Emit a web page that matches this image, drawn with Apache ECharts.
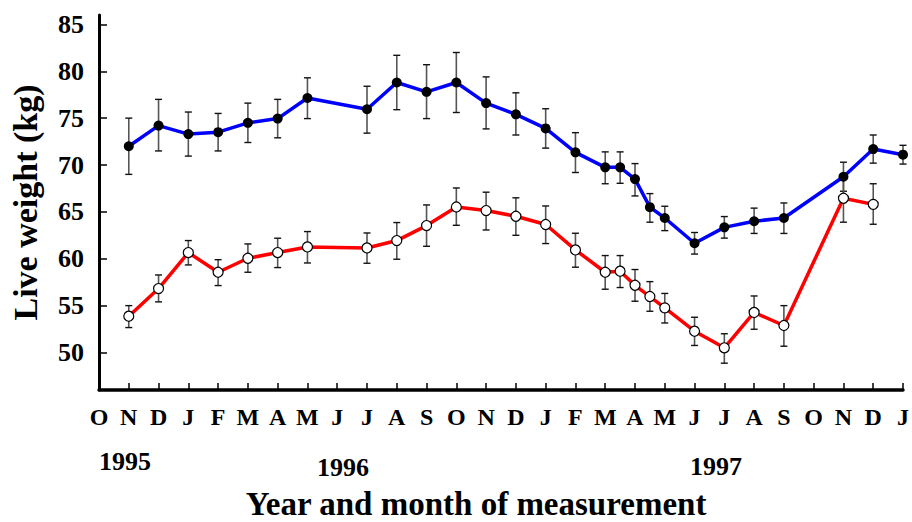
<!DOCTYPE html>
<html>
<head>
<meta charset="utf-8">
<script src="https://cdn.jsdelivr.net/npm/echarts@6/dist/echarts.min.js"></script>
<style>html,body{margin:0;padding:0;background:#fff}#c{width:912px;height:522px}</style>
</head>
<body>
<div id="c"></div>
<script>
// Month tick labels (Oct 1995 .. Jan 1998), x = months since Oct 1995
const monthLabels = ['O','N','D','J','F','M','A','M','J','J','A','S','O','N','D','J','F','M','A','M','J','J','A','S','O','N','D','J'];
const yTicks = [50, 55, 60, 65, 70, 75, 80, 85];
const yearLabels = ['1995', '1996', '1997'];

// Blue series (filled black markers)
const blueX = [1,2,3,4,5,6,7,9,10,11,12,13,14,15,16,17,17.5,18,18.5,19,20,21,22,23,25,26,27];
const blueMean = [72.0,74.2,73.3,73.5,74.5,74.95,77.15,75.95,78.8,77.8,78.8,76.6,75.4,73.9,71.35,69.75,69.75,68.5,65.5,64.35,61.65,63.35,64.0,64.35,68.75,71.7,71.1];
const blueLow  = [69.0,71.5,70.95,71.5,72.4,72.9,74.95,73.4,75.9,74.95,75.6,73.85,73.2,71.8,69.2,68.0,68.05,66.7,63.9,63.0,60.5,62.2,62.7,62.7,67.2,70.2,70.1];
const blueHigh = [75.0,77.0,75.65,75.5,76.6,77.0,79.3,78.4,81.7,80.7,82.0,79.4,77.7,76.0,73.45,71.4,71.4,70.15,66.95,65.6,62.8,64.5,65.4,65.95,70.3,73.2,72.1];

// Red series (open white markers)
const redX = [1,2,3,4,5,6,7,9,10,11,12,13,14,15,16,17,17.5,18,18.5,19,20,21,22,23,25,26];
const redMean = [53.87,56.82,60.66,58.56,60.05,60.66,61.26,61.15,61.94,63.54,65.52,65.14,64.53,63.65,60.94,58.56,58.67,57.17,55.97,54.76,52.27,50.5,54.27,52.88,66.45,65.8];
const redLow  = [52.66,55.4,59.34,57.14,58.56,59.06,59.55,59.52,59.95,61.33,63.57,63.07,62.5,61.62,59.1,56.75,56.93,55.47,54.4,53.15,50.75,48.86,52.48,50.67,63.9,63.68];
const redHigh = [55.0,58.27,61.94,59.9,61.58,62.19,62.9,62.75,63.86,65.74,67.55,67.1,66.5,65.63,62.72,60.34,60.34,58.85,57.56,56.3,53.76,52.0,56.03,55.0,69.0,68.0];

const FONT = '"Liberation Serif", "Times New Roman", serif';

function pairs(xs, ys) { return xs.map((x, i) => [x, ys[i]]); }
function errData(xs, lo, hi) { return xs.map((x, i) => [x, lo[i], hi[i]]); }

function renderErr(params, api) {
  const x = api.value(0);
  const lo = api.coord([x, api.value(1)]);
  const hi = api.coord([x, api.value(2)]);
  const hw = 3.5;
  return {
    type: 'group',
    children: [
      { type: 'line', shape: { x1: lo[0], y1: lo[1], x2: hi[0], y2: hi[1] }, style: { stroke: '#555', lineWidth: 1.6 } },
      { type: 'line', shape: { x1: hi[0] - hw, y1: hi[1], x2: hi[0] + hw, y2: hi[1] }, style: { stroke: '#111', lineWidth: 1.4 } },
      { type: 'line', shape: { x1: lo[0] - hw, y1: lo[1], x2: lo[0] + hw, y2: lo[1] }, style: { stroke: '#111', lineWidth: 1.4 } }
    ]
  };
}

const chart = echarts.init(document.getElementById('c'), null, { renderer: 'svg' });
chart.setOption({
  animation: false,
  backgroundColor: '#fff',
  grid: { left: 98.5, right: 7, top: 15, bottom: 132, containLabel: false },
  xAxis: {
    type: 'value', min: 0, max: 27, interval: 1,
    axisLine: { lineStyle: { color: '#000', width: 3.5 } },
    axisTick: { inside: true, length: 7, lineStyle: { color: '#000', width: 1.5 } },
    axisLabel: {
      margin: 15, color: '#000', fontFamily: FONT, fontWeight: 'bold', fontSize: 24,
      formatter: v => monthLabels[Math.round(v)] || '',
      showMinLabel: true, showMaxLabel: true
    },
    splitLine: { show: false }
  },
  yAxis: {
    type: 'value', min: 46, max: 86,
    name: 'Live weight (kg)', nameLocation: 'middle', nameGap: 57,
    nameTextStyle: { color: '#000', fontFamily: FONT, fontWeight: 'bold', fontSize: 34 },
    axisLine: { show: true, lineStyle: { color: '#000', width: 3 } },
    axisTick: { show: true, inside: true, length: 8, customValues: yTicks, lineStyle: { color: '#000', width: 1.5 } },
    axisLabel: { customValues: yTicks, margin: 15, color: '#000', fontFamily: FONT, fontWeight: 'bold', fontSize: 26 },
    splitLine: { show: false }
  },
  graphic: [
    { type: 'text', x: 125, y: 461, style: { text: yearLabels[0], font: 'bold 26px ' + FONT, fill: '#000', align: 'center', verticalAlign: 'middle' } },
    { type: 'text', x: 343, y: 467, style: { text: yearLabels[1], font: 'bold 26px ' + FONT, fill: '#000', align: 'center', verticalAlign: 'middle' } },
    { type: 'text', x: 716, y: 466, style: { text: yearLabels[2], font: 'bold 26px ' + FONT, fill: '#000', align: 'center', verticalAlign: 'middle' } },
    { type: 'text', x: 476, y: 504, style: { text: 'Year and month of measurement', font: 'bold 33px ' + FONT, fill: '#000', align: 'center', verticalAlign: 'middle' } }
  ],
  series: [
    { type: 'custom', name: 'blueErr', renderItem: renderErr, data: errData(blueX, blueLow, blueHigh), z: 1, silent: true },
    { type: 'custom', name: 'redErr', renderItem: renderErr, data: errData(redX, redLow, redHigh), z: 1, silent: true },
    {
      type: 'line', name: 'blue', data: pairs(blueX, blueMean), z: 3,
      lineStyle: { color: '#0000ff', width: 3.5 },
      symbol: 'circle', symbolSize: 10, showAllSymbol: true,
      itemStyle: { color: '#000', borderColor: '#000', borderWidth: 0 }
    },
    {
      type: 'line', name: 'red', data: pairs(redX, redMean), z: 3,
      lineStyle: { color: '#ff0000', width: 3.5 },
      symbol: 'circle', symbolSize: 10, showAllSymbol: true,
      itemStyle: { color: '#fff', borderColor: '#000', borderWidth: 1.2 }
    }
  ]
});
</script>
</body>
</html>
